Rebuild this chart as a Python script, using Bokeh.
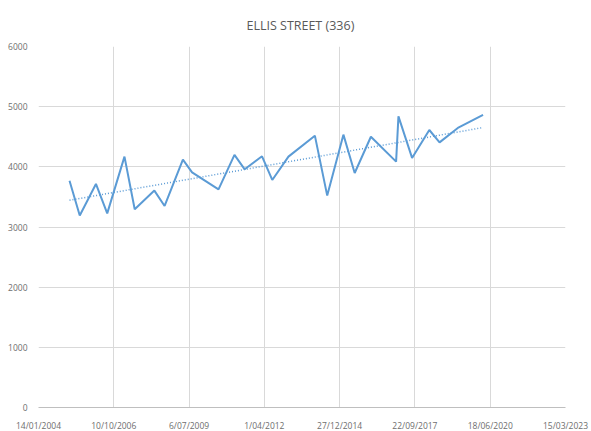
import numpy as np
import pandas as pd
from bokeh.plotting import figure
from bokeh.models import Range1d, FixedTicker, ColumnDataSource
from bokeh.embed import file_html
from bokeh.resources import INLINE

# ---- data ----
dates = ["2005-03-01", "2005-07-15", "2006-02-15", "2006-07-15", "2007-03-01",
         "2007-07-15", "2008-04-01", "2008-08-15", "2009-04-15", "2009-08-15",
         "2010-08-01", "2011-03-01", "2011-07-15", "2012-03-01", "2012-07-15",
         "2013-02-15", "2014-02-01", "2014-07-15", "2015-02-15", "2015-07-15",
         "2016-02-15", "2017-01-15", "2017-02-15", "2017-08-15", "2018-04-01",
         "2018-08-15", "2019-04-15", "2020-03-15"]
values = [3770, 3190, 3715, 3227, 4170,
          3294, 3605, 3350, 4120, 3909,
          3626, 4198, 3959, 4175, 3782,
          4170, 4518, 3522, 4535, 3898,
          4500, 4086, 4839, 4148, 4612,
          4407, 4646, 4862]
x_ticks = [38000, 39000, 40000, 41000, 42000, 43000, 44000, 45000]
x_tick_labels = ["14/01/2004", "10/10/2006", "6/07/2009", "1/04/2012",
                 "27/12/2014", "22/09/2017", "18/06/2020", "15/03/2023"]
y_ticks = [0, 1000, 2000, 3000, 4000, 5000, 6000]
title_text = "ELLIS STREET  (336)"

# Excel serial day numbers
epoch = pd.Timestamp("1899-12-30")
xs = [(pd.Timestamp(d) - epoch).days for d in dates]

# linear trendline from the data
coef = np.polyfit(xs, values, 1)
tx = [xs[0], xs[-1]]
ty = [float(np.polyval(coef, v)) for v in tx]

FONT = "Open Sans"
TXT = "#6e6e6e"
GRID = "#d9d9d9"
BLUE = "#5B9BD5"

p = figure(width=589, height=425, frame_width=527, frame_height=361,
           output_backend="svg", toolbar_location=None,
           x_range=Range1d(x_ticks[0], x_ticks[-1]),
           y_range=Range1d(y_ticks[0], y_ticks[-1]),
           min_border_left=38, min_border_right=24, min_border_top=46,
           min_border_bottom=18)

p.title.text = title_text
p.title.align = "center"
p.title.text_font = FONT
p.title.text_font_size = "12.5px"
p.title.text_font_style = "normal"
p.title.text_color = "#595959"
p.title.standoff = 26

p.outline_line_color = None
p.background_fill_color = "white"
p.border_fill_color = "white"

src = ColumnDataSource(dict(x=xs, y=values))
p.line("x", "y", source=src, line_color=BLUE, line_width=2)
p.line(tx, ty, line_color=BLUE, line_width=1.5, line_dash="1 2")

p.xaxis.ticker = FixedTicker(ticks=x_ticks)
p.xaxis.major_label_overrides = {t: l for t, l in zip(x_ticks, x_tick_labels)}
p.yaxis.ticker = FixedTicker(ticks=y_ticks)

for ax in (p.xaxis, p.yaxis):
    ax.major_tick_line_color = None
    ax.minor_tick_line_color = None
    ax.major_label_text_font = FONT
    ax.major_label_text_font_size = "8.5px"
    ax.major_label_text_color = TXT
p.yaxis.axis_line_color = None
p.xaxis.axis_line_color = "#bfbfbf"
p.yaxis.major_label_standoff = 5
p.xaxis.major_label_standoff = 6

p.xgrid.grid_line_color = GRID
p.ygrid.grid_line_color = GRID
p.xgrid.ticker = FixedTicker(ticks=x_ticks)
p.ygrid.ticker = FixedTicker(ticks=y_ticks)

open("out.html", "w").write(file_html(p, INLINE))
